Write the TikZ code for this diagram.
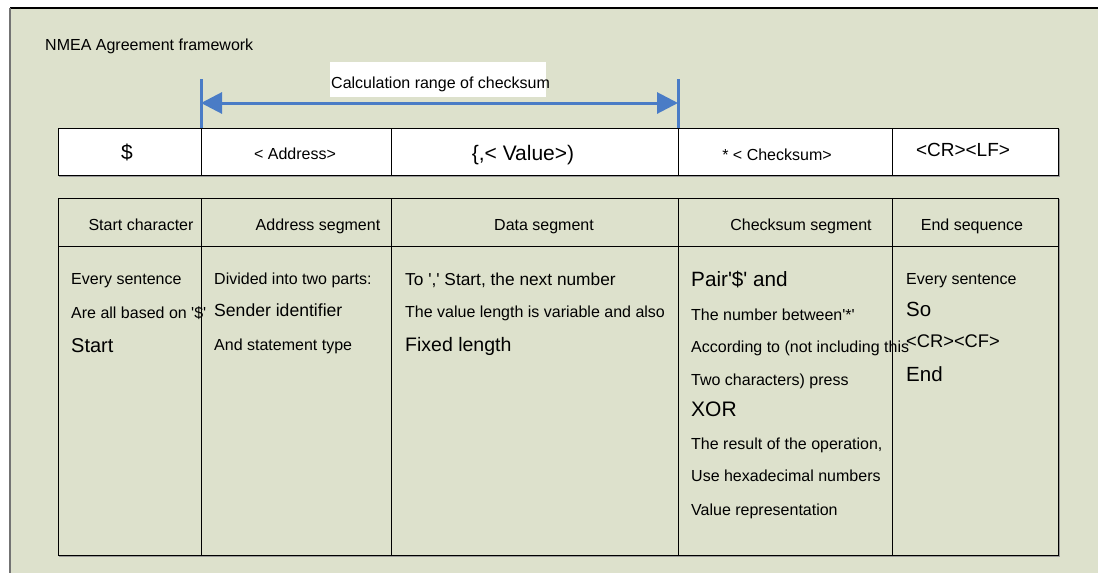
\documentclass[tikz,border=0pt]{standalone}
\usepackage{fontspec}
\setmainfont{Liberation Sans}
\usetikzlibrary{arrows.meta}
\definecolor{panelbg}{RGB}{221,225,204}
\definecolor{rangeblue}{RGB}{74,124,198}
\newcommand{\sqt}{\textquotesingle}

\begin{document}
\begin{tikzpicture}[x=1pt,y=-1pt,
  fs/.style={font=\fontsize{#1}{#1}\selectfont},
  txt/.style={inner sep=0pt,anchor=base,fs=16},
  body/.style={txt,anchor=base west},
  cellline/.style={line width=0.9pt},
  shade/.style={line width=1.2pt,black!40},
  rangeline/.style={rangeblue,line width=3pt}]
\useasboundingbox (0,0) rectangle (1098,573);
\fill[panelbg] (10,8) rectangle (1098,573);
\draw[line width=1.5pt] (10,8)--(1098,8);
\draw[line width=1.8pt,black!55] (10,8)--(10,573);

\node[body] (title) at (45,50) {NMEA Agreement framework};

\coordinate (lefttop) at (201,79);
\coordinate (leftbot) at (201,128);
\coordinate (righttop) at (678,79);
\coordinate (rightbot) at (678,128);
\coordinate (rangeL) at (201,103);
\coordinate (rangeR) at (678,103);
\draw[rangeline] (lefttop)--(leftbot);
\draw[rangeline] (righttop)--(rightbot);
\draw[rangeline,{Triangle[length=21pt,width=21pt]}-{Triangle[length=21pt,width=21pt]}] (rangeL)--(rangeR);
\fill[white] (330,62) rectangle (546,97);
\node[body] (rangelbl) at (331,88.7) {Calculation range of checksum};

\draw[shade] (59,176.2)--(1059.2,176.2)--(1059.2,129);
\draw[cellline,fill=white] (58,128) rectangle (1058,175);
\foreach \x in {201,391,678,892}{
  \draw[cellline] (\x,128)--(\x,175);
}
\node[txt,fs=21] (dollar) at (127,159.5) {\$};
\node[txt] (addr) at (295,159.3) {< Address>};
\node[txt,fs=21] (value) at (523,160) {\{,< Value>)};
\node[txt] (chk) at (777,160) {* < Checksum>};
\node[txt,fs=19] (crlf) at (963,156.7) {<CR><LF>};

\draw[shade] (59,556.2)--(1059.2,556.2)--(1059.2,199);
\draw[cellline] (58,198) rectangle (1058,555);
\draw[cellline] (58,246)--(1058,246);
\foreach \x in {201,391,678,892}{
  \draw[cellline] (\x,198)--(\x,555);
}
\foreach \cx/\name/\lbl in {141/hstart/Start character,318/haddr/Address segment,544/hdata/Data segment,801/hchk/Checksum segment,972/hend/End sequence}{
  \node[txt] (\name) at (\cx,230.7) {\lbl};
}

\node[body] (starta) at (71,284.3) {Every sentence};
\node[body] (startb) at (71,318.3) {Are all based on \sqt\$\sqt};
\node[body,fs=20] (startc) at (71,352.3) {Start};

\node[body] (addra) at (214,284.3) {Divided into two parts:};
\node[body,fs=17.6] (addrb) at (214,316) {Sender identifier};
\node[body] (addrc) at (214,350) {And statement type};

\node[body,fs=17.3] (dataa) at (405,285.7) {To \sqt,\sqt\ Start, the next number};
\node[body] (datab) at (405,317.3) {The value length is variable and also};
\node[body,fs=19.5] (datac) at (405,351) {Fixed length};

\node[body,fs=20.7] (chka) at (691,286) {Pair\sqt\$\sqt\ and};
\node[body] (chkb) at (691,320) {The number between\sqt*\sqt};
\node[body] (chkc) at (691,352.3) {According to (not including this};
\node[body] (chkd) at (691,385) {Two characters) press};
\node[body,fs=21] (chke) at (691,416.7) {XOR};
\node[body] (chkf) at (691,449.3) {The result of the operation,};
\node[body] (chkg) at (691,481.7) {Use hexadecimal numbers};
\node[body] (chkh) at (691,515) {Value representation};

\node[body] (enda) at (906,284.3) {Every sentence};
\node[body,fs=20.5] (endb) at (906,316) {So};
\node[body,fs=18.3] (endc) at (906,347.7) {<CR><CF>};
\node[body,fs=20.5] (endd) at (906,381.7) {End};
\end{tikzpicture}
\end{document}
